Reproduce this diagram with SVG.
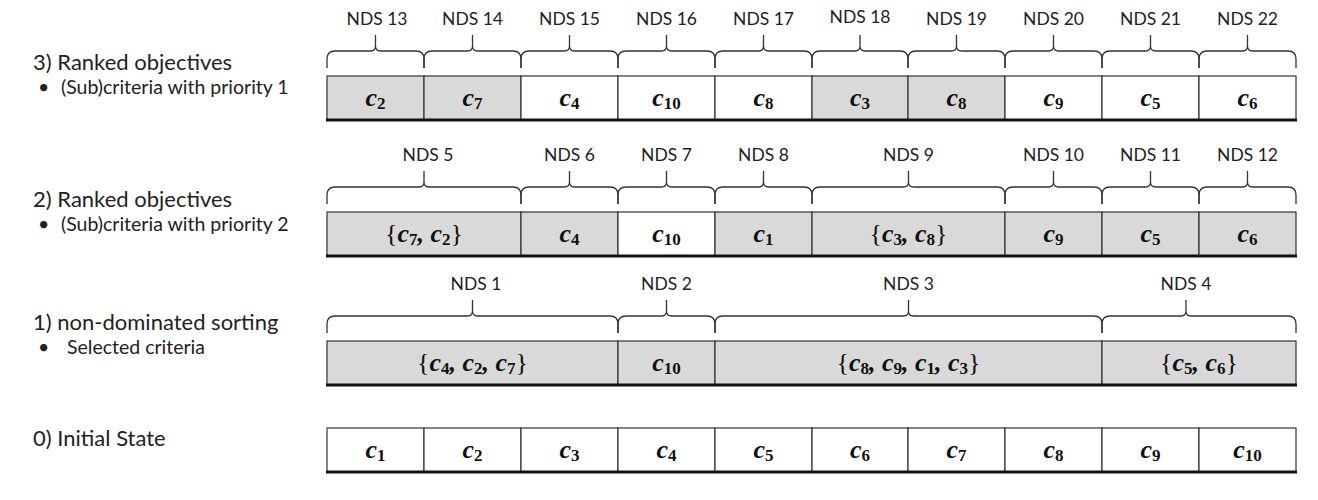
<svg xmlns="http://www.w3.org/2000/svg" width="1318" height="500" viewBox="0 0 1318 500">
<style>
.g{fill:#d9d9d9;stroke:#333;stroke-width:1.2}
.w{fill:#ffffff;stroke:#333;stroke-width:1.2}
.base{stroke:#111;stroke-width:3}
.br{fill:none;stroke:#333;stroke-width:1.3}
.nds{font-family:Lato,"Liberation Sans",sans-serif;font-size:17.5px;fill:#222;text-anchor:middle}
.m{font-family:"Liberation Serif",serif;font-size:26px;font-weight:bold;font-style:italic;fill:#111;text-anchor:middle}
.s{font-size:17px;font-style:normal}
.b{font-weight:normal;font-style:normal}
.hd{font-family:Lato,"Liberation Sans",sans-serif;font-size:22px;fill:#222}
.sb{font-family:Lato,"Liberation Sans",sans-serif;font-size:19.5px;fill:#222}
</style>
<rect width="1318" height="500" fill="#ffffff"/>

<g id="labels">
<text class="hd" x="33" y="70">3) Ranked objectives</text>
<text class="sb" x="38" y="94">•</text>
<text class="sb" x="61" y="94">(Sub)criteria with priority 1</text>
<text class="hd" x="33" y="207">2) Ranked objectives</text>
<text class="sb" x="38" y="231">•</text>
<text class="sb" x="61" y="231">(Sub)criteria with priority 2</text>
<text class="hd" x="33" y="330">1) non-dominated sorting</text>
<text class="sb" x="38" y="354">•</text>
<text class="sb" x="67" y="354">Selected criteria</text>
<text class="hd" x="33" y="446">0) Initial State</text>
</g>

<g id="row3">
<g id="r3c1"><rect class="g" x="327" y="76" width="97" height="44"/><text class="m" x="375.5" y="106">c<tspan class="s" dy="3">2</tspan></text></g>
<g id="r3c2"><rect class="g" x="424" y="76" width="97" height="44"/><text class="m" x="472.5" y="106">c<tspan class="s" dy="3">7</tspan></text></g>
<g id="r3c3"><rect class="w" x="521" y="76" width="97" height="44"/><text class="m" x="569.5" y="106">c<tspan class="s" dy="3">4</tspan></text></g>
<g id="r3c4"><rect class="w" x="618" y="76" width="97" height="44"/><text class="m" x="666.5" y="106">c<tspan class="s" dy="3">10</tspan></text></g>
<g id="r3c5"><rect class="w" x="715" y="76" width="97" height="44"/><text class="m" x="763.5" y="106">c<tspan class="s" dy="3">8</tspan></text></g>
<g id="r3c6"><rect class="g" x="812" y="76" width="96" height="44"/><text class="m" x="860" y="106">c<tspan class="s" dy="3">3</tspan></text></g>
<g id="r3c7"><rect class="g" x="908" y="76" width="97" height="44"/><text class="m" x="956.5" y="106">c<tspan class="s" dy="3">8</tspan></text></g>
<g id="r3c8"><rect class="w" x="1005" y="76" width="97" height="44"/><text class="m" x="1053.5" y="106">c<tspan class="s" dy="3">9</tspan></text></g>
<g id="r3c9"><rect class="w" x="1102" y="76" width="97" height="44"/><text class="m" x="1150.5" y="106">c<tspan class="s" dy="3">5</tspan></text></g>
<g id="r3c10"><rect class="w" x="1199" y="76" width="97" height="44"/><text class="m" x="1247.5" y="106">c<tspan class="s" dy="3">6</tspan></text></g>
<line class="base" x1="326" y1="120" x2="1297" y2="120"/>
<text class="nds" x="377" y="25">NDS 13</text>
<text class="nds" x="472.5" y="25">NDS 14</text>
<text class="nds" x="569.5" y="25">NDS 15</text>
<text class="nds" x="666.5" y="25">NDS 16</text>
<text class="nds" x="763.5" y="25">NDS 17</text>
<text class="nds" x="860" y="23">NDS 18</text>
<text class="nds" x="956.5" y="25">NDS 19</text>
<text class="nds" x="1053.5" y="25">NDS 20</text>
<text class="nds" x="1150.5" y="25">NDS 21</text>
<text class="nds" x="1247.5" y="25">NDS 22</text>
</g>

<g id="row2" transform="translate(0,136)">
<g id="r2c1"><rect class="g" x="327" y="76" width="194" height="44"/><text class="m" x="424" y="106"><tspan class="b">{</tspan>c<tspan class="s" dy="3">7</tspan><tspan dy="-3">, c</tspan><tspan class="s" dy="3">2</tspan><tspan class="b" dy="-3">}</tspan></text></g>
<g id="r2c2"><rect class="g" x="521" y="76" width="97" height="44"/><text class="m" x="569.5" y="106">c<tspan class="s" dy="3">4</tspan></text></g>
<g id="r2c3"><rect class="w" x="618" y="76" width="97" height="44"/><text class="m" x="666.5" y="106">c<tspan class="s" dy="3">10</tspan></text></g>
<g id="r2c4"><rect class="g" x="715" y="76" width="97" height="44"/><text class="m" x="763.5" y="106">c<tspan class="s" dy="3">1</tspan></text></g>
<g id="r2c5"><rect class="g" x="812" y="76" width="193" height="44"/><text class="m" x="908.5" y="106"><tspan class="b">{</tspan>c<tspan class="s" dy="3">3</tspan><tspan dy="-3">, c</tspan><tspan class="s" dy="3">8</tspan><tspan class="b" dy="-3">}</tspan></text></g>
<g id="r2c6"><rect class="g" x="1005" y="76" width="97" height="44"/><text class="m" x="1053.5" y="106">c<tspan class="s" dy="3">9</tspan></text></g>
<g id="r2c7"><rect class="g" x="1102" y="76" width="97" height="44"/><text class="m" x="1150.5" y="106">c<tspan class="s" dy="3">5</tspan></text></g>
<g id="r2c8"><rect class="g" x="1199" y="76" width="97" height="44"/><text class="m" x="1247.5" y="106">c<tspan class="s" dy="3">6</tspan></text></g>
<line class="base" x1="326" y1="120" x2="1297" y2="120"/>
<text class="nds" x="428" y="25">NDS 5</text>
<text class="nds" x="569.5" y="25">NDS 6</text>
<text class="nds" x="666.5" y="25">NDS 7</text>
<text class="nds" x="763.5" y="25">NDS 8</text>
<text class="nds" x="908.5" y="25">NDS 9</text>
<text class="nds" x="1053.5" y="25">NDS 10</text>
<text class="nds" x="1150.5" y="25">NDS 11</text>
<text class="nds" x="1247.5" y="25">NDS 12</text>
</g>

<g id="row1" transform="translate(0,265)">
<g id="r1c1"><rect class="g" x="327" y="76" width="291" height="44"/><text class="m" x="472.5" y="106"><tspan class="b">{</tspan>c<tspan class="s" dy="3">4</tspan><tspan dy="-3">, c</tspan><tspan class="s" dy="3">2</tspan><tspan dy="-3">, c</tspan><tspan class="s" dy="3">7</tspan><tspan class="b" dy="-3">}</tspan></text></g>
<g id="r1c2"><rect class="g" x="618" y="76" width="97" height="44"/><text class="m" x="666.5" y="106">c<tspan class="s" dy="3">10</tspan></text></g>
<g id="r1c3"><rect class="g" x="715" y="76" width="387" height="44"/><text class="m" x="908.5" y="106"><tspan class="b">{</tspan>c<tspan class="s" dy="3">8</tspan><tspan dy="-3">, c</tspan><tspan class="s" dy="3">9</tspan><tspan dy="-3">, c</tspan><tspan class="s" dy="3">1</tspan><tspan dy="-3">, c</tspan><tspan class="s" dy="3">3</tspan><tspan class="b" dy="-3">}</tspan></text></g>
<g id="r1c4"><rect class="g" x="1102" y="76" width="194" height="44"/><text class="m" x="1199" y="106"><tspan class="b">{</tspan>c<tspan class="s" dy="3">5</tspan><tspan dy="-3">, c</tspan><tspan class="s" dy="3">6</tspan><tspan class="b" dy="-3">}</tspan></text></g>
<line class="base" x1="326" y1="120" x2="1297" y2="120"/>
<text class="nds" x="476" y="25">NDS 1</text>
<text class="nds" x="666.5" y="25">NDS 2</text>
<text class="nds" x="908.5" y="25">NDS 3</text>
<text class="nds" x="1186" y="25">NDS 4</text>
</g>

<g id="row0" transform="translate(0,352)">
<g id="r0c1"><rect class="w" x="327" y="76" width="97" height="44"/><text class="m" x="375.5" y="106">c<tspan class="s" dy="3">1</tspan></text></g>
<g id="r0c2"><rect class="w" x="424" y="76" width="97" height="44"/><text class="m" x="472.5" y="106">c<tspan class="s" dy="3">2</tspan></text></g>
<g id="r0c3"><rect class="w" x="521" y="76" width="97" height="44"/><text class="m" x="569.5" y="106">c<tspan class="s" dy="3">3</tspan></text></g>
<g id="r0c4"><rect class="w" x="618" y="76" width="97" height="44"/><text class="m" x="666.5" y="106">c<tspan class="s" dy="3">4</tspan></text></g>
<g id="r0c5"><rect class="w" x="715" y="76" width="97" height="44"/><text class="m" x="763.5" y="106">c<tspan class="s" dy="3">5</tspan></text></g>
<g id="r0c6"><rect class="w" x="812" y="76" width="96" height="44"/><text class="m" x="860" y="106">c<tspan class="s" dy="3">6</tspan></text></g>
<g id="r0c7"><rect class="w" x="908" y="76" width="97" height="44"/><text class="m" x="956.5" y="106">c<tspan class="s" dy="3">7</tspan></text></g>
<g id="r0c8"><rect class="w" x="1005" y="76" width="97" height="44"/><text class="m" x="1053.5" y="106">c<tspan class="s" dy="3">8</tspan></text></g>
<g id="r0c9"><rect class="w" x="1102" y="76" width="97" height="44"/><text class="m" x="1150.5" y="106">c<tspan class="s" dy="3">9</tspan></text></g>
<g id="r0c10"><rect class="w" x="1199" y="76" width="97" height="44"/><text class="m" x="1247.5" y="106">c<tspan class="s" dy="3">10</tspan></text></g>
<line class="base" x1="326" y1="120" x2="1297" y2="120"/>
</g>

<g id="connectors" class="br">
<g id="brackets3">
<path d="M327 68L327 59Q327 51 335 51L370.5 51Q375.5 51 375.5 46L375.5 35M375.5 46Q375.5 51 380.5 51L416 51Q424 51 424 59L424 68"/>
<path d="M424 68L424 59Q424 51 432 51L467.5 51Q472.5 51 472.5 46L472.5 35M472.5 46Q472.5 51 477.5 51L513 51Q521 51 521 59L521 68"/>
<path d="M521 68L521 59Q521 51 529 51L564.5 51Q569.5 51 569.5 46L569.5 35M569.5 46Q569.5 51 574.5 51L610 51Q618 51 618 59L618 68"/>
<path d="M618 68L618 59Q618 51 626 51L661.5 51Q666.5 51 666.5 46L666.5 35M666.5 46Q666.5 51 671.5 51L707 51Q715 51 715 59L715 68"/>
<path d="M715 68L715 59Q715 51 723 51L758.5 51Q763.5 51 763.5 46L763.5 35M763.5 46Q763.5 51 768.5 51L804 51Q812 51 812 59L812 68"/>
<path d="M812 68L812 59Q812 51 820 51L855 51Q860 51 860 46L860 35M860 46Q860 51 865 51L900 51Q908 51 908 59L908 68"/>
<path d="M908 68L908 59Q908 51 916 51L951.5 51Q956.5 51 956.5 46L956.5 35M956.5 46Q956.5 51 961.5 51L997 51Q1005 51 1005 59L1005 68"/>
<path d="M1005 68L1005 59Q1005 51 1013 51L1048.5 51Q1053.5 51 1053.5 46L1053.5 35M1053.5 46Q1053.5 51 1058.5 51L1094 51Q1102 51 1102 59L1102 68"/>
<path d="M1102 68L1102 59Q1102 51 1110 51L1145.5 51Q1150.5 51 1150.5 46L1150.5 35M1150.5 46Q1150.5 51 1155.5 51L1191 51Q1199 51 1199 59L1199 68"/>
<path d="M1199 68L1199 59Q1199 51 1207 51L1242.5 51Q1247.5 51 1247.5 46L1247.5 35M1247.5 46Q1247.5 51 1252.5 51L1288 51Q1296 51 1296 59L1296 68"/>
</g>
<g id="brackets2" transform="translate(0,136)">
<path d="M327 68L327 59Q327 51 335 51L419 51Q424 51 424 46L424 35M424 46Q424 51 429 51L513 51Q521 51 521 59L521 68"/>
<path d="M521 68L521 59Q521 51 529 51L564.5 51Q569.5 51 569.5 46L569.5 35M569.5 46Q569.5 51 574.5 51L610 51Q618 51 618 59L618 68"/>
<path d="M618 68L618 59Q618 51 626 51L661.5 51Q666.5 51 666.5 46L666.5 35M666.5 46Q666.5 51 671.5 51L707 51Q715 51 715 59L715 68"/>
<path d="M715 68L715 59Q715 51 723 51L758.5 51Q763.5 51 763.5 46L763.5 35M763.5 46Q763.5 51 768.5 51L804 51Q812 51 812 59L812 68"/>
<path d="M812 68L812 59Q812 51 820 51L903.5 51Q908.5 51 908.5 46L908.5 35M908.5 46Q908.5 51 913.5 51L997 51Q1005 51 1005 59L1005 68"/>
<path d="M1005 68L1005 59Q1005 51 1013 51L1048.5 51Q1053.5 51 1053.5 46L1053.5 35M1053.5 46Q1053.5 51 1058.5 51L1094 51Q1102 51 1102 59L1102 68"/>
<path d="M1102 68L1102 59Q1102 51 1110 51L1145.5 51Q1150.5 51 1150.5 46L1150.5 35M1150.5 46Q1150.5 51 1155.5 51L1191 51Q1199 51 1199 59L1199 68"/>
<path d="M1199 68L1199 59Q1199 51 1207 51L1242.5 51Q1247.5 51 1247.5 46L1247.5 35M1247.5 46Q1247.5 51 1252.5 51L1288 51Q1296 51 1296 59L1296 68"/>
</g>
<g id="brackets1" transform="translate(0,265)">
<path d="M327 68L327 59Q327 51 335 51L467.5 51Q472.5 51 472.5 46L472.5 35M472.5 46Q472.5 51 477.5 51L610 51Q618 51 618 59L618 68"/>
<path d="M618 68L618 59Q618 51 626 51L661.5 51Q666.5 51 666.5 46L666.5 35M666.5 46Q666.5 51 671.5 51L707 51Q715 51 715 59L715 68"/>
<path d="M715 68L715 59Q715 51 723 51L903.5 51Q908.5 51 908.5 46L908.5 35M908.5 46Q908.5 51 913.5 51L1094 51Q1102 51 1102 59L1102 68"/>
<path d="M1102 68L1102 59Q1102 51 1110 51L1181 51Q1186 51 1186 46L1186 35M1186 46Q1186 51 1191 51L1288 51Q1296 51 1296 59L1296 68"/>
</g>
</g>
</svg>
